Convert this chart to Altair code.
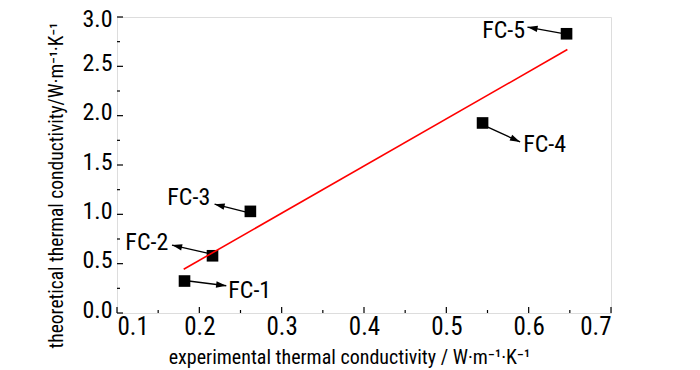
import math
import altair as alt
import pandas as pd

# --- data ---
labels = ["FC-1", "FC-2", "FC-3", "FC-4", "FC-5"]
exp_k = [0.182, 0.216, 0.262, 0.544, 0.646]
theo_k = [0.324, 0.58, 1.03, 1.926, 2.83]

fit_x = [0.181, 0.647]
fit_y = [0.443, 2.67]

# annotation arrows (data units): start, tip ; text anchor
arrow_x0 = [0.187, 0.2112, 0.2558, 0.545, 0.6422]
arrow_y0 = [0.324, 0.604, 1.025, 1.903, 2.831]
arrow_x1 = [0.2327, 0.1668, 0.2185, 0.5896, 0.5985]
arrow_y1 = [0.276, 0.688, 1.103, 1.734, 2.898]
text_x = [0.2351, 0.1623, 0.2133, 0.5933, 0.5957]
text_y = [0.223, 0.709, 1.164, 1.700, 2.854]
text_align = ["left", "right", "right", "left", "right"]

x_major = [0.1, 0.2, 0.3, 0.4, 0.5, 0.6, 0.7]
x_minor = [0.15, 0.25, 0.35, 0.45, 0.55, 0.65]
y_major = [0.0, 0.5, 1.0, 1.5, 2.0, 2.5, 3.0]
y_minor = [0.25, 0.75, 1.25, 1.75, 2.25, 2.75]

W, H = 494, 296
XMIN, XMAX, YMIN, YMAX = 0.1, 0.7, 0.0, 3.0
FONT = "Roboto Condensed"

xs = alt.Scale(domain=[XMIN, XMAX], nice=False, zero=False)
ys = alt.Scale(domain=[YMIN, YMAX], nice=False, zero=False)

pts = pd.DataFrame({"x": exp_k, "y": theo_k, "label": labels})
fit = pd.DataFrame({"x": fit_x, "y": fit_y})

angles = []
for a, b, c, d in zip(arrow_x0, arrow_y0, arrow_x1, arrow_y1):
    dx = (c - a) * W / (XMAX - XMIN)
    dy = -(d - b) * H / (YMAX - YMIN)
    angles.append(math.degrees(math.atan2(dx, -dy)) % 360)

arr = pd.DataFrame({"x0": arrow_x0, "y0": arrow_y0, "x1": arrow_x1, "y1": arrow_y1,
                    "angle": angles})
txt = pd.DataFrame({"x": text_x, "y": text_y, "label": labels, "align": text_align})

xaxis = alt.Axis(values=x_major, format=".1f", ticks=False, grid=False, domain=False,
                 labelFont=FONT, labelFontSize=25, labelColor="black", labelPadding=1,
                 title="experimental thermal conductivity / W·m⁻¹·K⁻¹",
                 titleFont=FONT, titleFontSize=20, titleFontWeight="normal",
                 titleColor="black", titleBaseline="alphabetic", titleY=50, titleX=232)
yaxis = alt.Axis(values=y_major, format=".1f", ticks=False, grid=False, domain=False,
                 labelFont=FONT, labelFontSize=24, labelColor="black", labelPadding=5,
                 labelOffset={"condition": {"test": "datum.value >= 3", "value": 2},
                              "value": -3},
                 title="theoretical thermal conductivity/W·m⁻¹·K⁻¹",
                 titleFont=FONT, titleFontSize=19.5, titleFontWeight="normal",
                 titleColor="black", titleBaseline="alphabetic", titleX=-55, titleY=168)

base_pts = alt.Chart(pts).mark_square(size=135, color="black", opacity=1).encode(
    x=alt.X("x:Q", scale=xs, axis=xaxis),
    y=alt.Y("y:Q", scale=ys, axis=yaxis),
)

line = alt.Chart(fit).mark_line(color="#ff0000", strokeWidth=1.6).encode(
    x=alt.X("x:Q", scale=xs), y=alt.Y("y:Q", scale=ys))

shafts = alt.Chart(arr).mark_rule(color="black", strokeWidth=1.4).encode(
    x=alt.X("x0:Q", scale=xs), y=alt.Y("y0:Q", scale=ys),
    x2="x1:Q", y2="y1:Q")

heads = alt.Chart(arr).mark_point(
    shape="M0,0L0.5,1.6L-0.5,1.6Z", filled=True, color="black", opacity=1, size=160,
    strokeWidth=0).encode(
    x=alt.X("x1:Q", scale=xs), y=alt.Y("y1:Q", scale=ys),
    angle=alt.Angle("angle:Q", scale=None))

text_left = alt.Chart(txt).transform_filter("datum.align == 'left'").mark_text(
    align="left", baseline="middle", font=FONT, fontSize=24, color="black").encode(
    x=alt.X("x:Q", scale=xs), y=alt.Y("y:Q", scale=ys), text="label:N")
text_right = alt.Chart(txt).transform_filter("datum.align == 'right'").mark_text(
    align="right", baseline="middle", font=FONT, fontSize=24, color="black").encode(
    x=alt.X("x:Q", scale=xs), y=alt.Y("y:Q", scale=ys), text="label:N")

xt = pd.DataFrame({"v": x_major})
xm = pd.DataFrame({"v": x_minor})
yt = pd.DataFrame({"v": y_major})
ym = pd.DataFrame({"v": y_minor})
xtick_major = alt.Chart(xt).mark_rule(color="black", strokeWidth=1.2).encode(
    x=alt.X("v:Q", scale=xs), y=alt.value(H), y2=alt.value(H - 6))
xtick_minor = alt.Chart(xm).mark_rule(color="black", strokeWidth=1.2).encode(
    x=alt.X("v:Q", scale=xs), y=alt.value(H), y2=alt.value(H - 3))
ytick_major = alt.Chart(yt).mark_rule(color="black", strokeWidth=1.2).encode(
    y=alt.Y("v:Q", scale=ys), x=alt.value(0), x2=alt.value(6))
ytick_minor = alt.Chart(ym).mark_rule(color="black", strokeWidth=1.2).encode(
    y=alt.Y("v:Q", scale=ys), x=alt.value(0), x2=alt.value(3))

chart = alt.layer(
    base_pts, line, shafts, heads, text_left, text_right,
    xtick_major, xtick_minor, ytick_major, ytick_minor,
).properties(
    width=W, height=H,
    autosize=alt.AutoSizeParams(type="none"),
    padding={"left": 109, "top": 9, "right": 81, "bottom": 57},
).configure_view(stroke="black", strokeWidth=1.8).configure(background="white")

chart.save("out.html", embed_options={"renderer": "svg", "actions": False})
